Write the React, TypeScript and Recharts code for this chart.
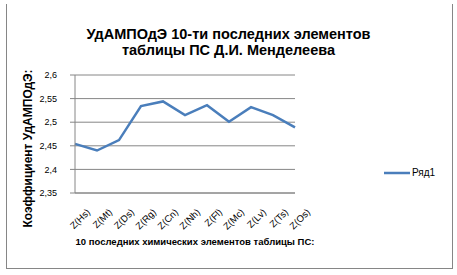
import React from "react";
import { LineChart, Line, XAxis, YAxis, CartesianGrid, Legend, Label } from "recharts";

const elements = ["Z(Hs)", "Z(Mt)", "Z(Ds)", "Z(Rg)", "Z(Cn)", "Z(Nh)", "Z(Fl)", "Z(Mc)", "Z(Lv)", "Z(Ts)", "Z(Os)"];
const udampode = [2.454, 2.44, 2.462, 2.534, 2.544, 2.515, 2.536, 2.501, 2.532, 2.515, 2.489];
const yTicks = [2.35, 2.4, 2.45, 2.5, 2.55, 2.6];
const seriesName = "Ряд1";
const titleLines = ["УдАМПОдЭ 10-ти последних элементов", "таблицы ПС Д.И. Менделеева"];
const xTitle = "10 последних химических элементов таблицы ПС:";
const yTitle = "Коэффициент УдАМПОдЭ:";

const data = elements.map((name, i) => ({ name, value: udampode[i] }));

const FONT = "'Liberation Sans', Arial, sans-serif";
const GRID = "#868686";

const LegendContent = (props: any) => {
  const { payload } = props;
  return (
    <div>
      {(payload || []).map((p: any) => (
        <div key={p.value} style={{ display: "flex", alignItems: "center" }}>
          <svg width={28} height={8}>
            <line x1={0} y1={4} x2={26} y2={4} stroke={p.color} strokeWidth={2.5} />
          </svg>
          <span style={{ fontFamily: FONT, fontSize: 10, color: "#000", lineHeight: "12px" }}>{p.value}</span>
        </div>
      ))}
    </div>
  );
};

const App: React.FC = () => {
  return (
    <div style={{ position: "absolute", left: 0, top: 0, width: 457, height: 275, background: "#fff" }}>
      <div
        style={{
          position: "absolute",
          left: 6,
          top: 4,
          width: 445,
          height: 264,
          borderLeft: `1px solid ${GRID}`,
          borderRight: `1px solid ${GRID}`,
          borderBottom: `1px solid ${GRID}`,
        }}
      />
      <div
        style={{
          position: "absolute",
          left: 0,
          top: 26,
          width: 457,
          textAlign: "center",
          fontFamily: FONT,
          fontWeight: "bold",
          fontSize: 14.5,
          lineHeight: "16px",
          color: "#000",
        }}
      >
        {titleLines.map((t) => (
          <div key={t}>{t}</div>
        ))}
      </div>
      <LineChart
        width={457}
        height={275}
        data={data}
        margin={{ top: 75, right: 92, bottom: 34, left: 20 }}
        style={{ position: "absolute", left: 0, top: 0 }}
      >
        <CartesianGrid vertical={false} stroke={GRID} strokeWidth={1} />
        <XAxis
          dataKey="name"
          height={48}
          axisLine={{ stroke: GRID }}
          tickLine={false}
          tickSize={4}
          tickMargin={11}
          interval={0}
          angle={-45}
          textAnchor="end"
          tick={{ fontSize: 9.5, fontFamily: FONT, fill: "#000", dx: 11 }}
        >
          <Label
            value={xTitle}
            content={() => (
              <text
                x={195}
                y={245}
                textAnchor="middle"
                fontFamily={FONT}
                fontWeight="bold"
                fontSize={9.5}
                fill="#000"
              >
                {xTitle}
              </text>
            )}
          />
        </XAxis>
        <YAxis
          width={55}
          domain={[2.35, 2.6]}
          ticks={yTicks}
          axisLine={{ stroke: GRID }}
          tickLine={{ stroke: GRID }}
          tickSize={5}
          tickMargin={13}
          tick={{ fontSize: 9, fontFamily: FONT, fill: "#000" }}
          tickFormatter={(v: number) => String(v).replace(".", ",")}
        >
          <Label
            value={yTitle}
            content={() => (
              <text
                x={32}
                y={148.5}
                transform="rotate(-90, 32, 148.5)"
                textAnchor="middle"
                fontFamily={FONT}
                fontWeight="bold"
                fontSize={12}
                fill="#000"
              >
                {yTitle}
              </text>
            )}
          />
        </YAxis>
        <Legend
          layout="horizontal"
          verticalAlign="middle"
          align="right"
          content={<LegendContent />}
          wrapperStyle={{ position: "absolute", left: 384, top: 167, width: 70 }}
        />
        <Line
          type="linear"
          dataKey="value"
          name={seriesName}
          stroke="#4A7EBB"
          strokeWidth={2.5}
          dot={false}
          isAnimationActive={false}
        />
      </LineChart>
    </div>
  );
};

export default App;
